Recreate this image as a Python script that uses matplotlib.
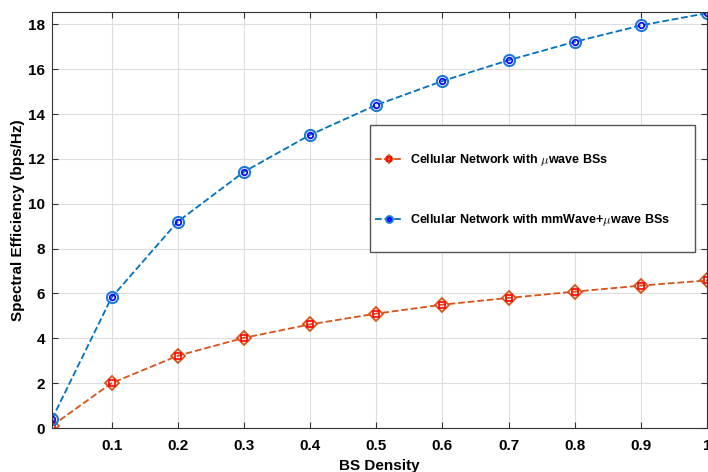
import matplotlib
matplotlib.use('Agg')
import matplotlib.pyplot as plt
from matplotlib.patches import Rectangle

plt.rcParams['font.family'] = ['Liberation Sans', 'DejaVu Sans']
plt.rcParams['font.weight'] = 'bold'
plt.rcParams['mathtext.fontset'] = 'cm'

density = [0.01, 0.1, 0.2, 0.3, 0.4, 0.5, 0.6, 0.7, 0.8, 0.9, 1.0]
se_uwave = [0.1, 2.0, 3.22, 4.02, 4.62, 5.1, 5.5, 5.8, 6.08, 6.35, 6.58]
se_mmwave = [0.4, 5.82, 9.2, 11.42, 13.07, 14.4, 15.47, 16.4, 17.22, 17.95, 18.5]

xticks = [0.1, 0.2, 0.3, 0.4, 0.5, 0.6, 0.7, 0.8, 0.9, 1]
xticklabels = ['0.1', '0.2', '0.3', '0.4', '0.5', '0.6', '0.7', '0.8', '0.9', '1']
yticks = [0, 2, 4, 6, 8, 10, 12, 14, 16, 18]

red_line = '#D95319'
blue_line = '#0072BD'

fig = plt.figure(figsize=(7.08, 4.72), dpi=100)
ax = fig.add_axes([52 / 708, 44 / 472, 655 / 708, 416 / 472])

l1, = ax.plot(density, se_uwave, '--', color=red_line, lw=1.3, marker='D',
              ms=7, mfc='none', mec=red_line, mew=1.3)
m1, = ax.plot(density, se_uwave, 's', color='red', ms=4, mfc='none', mew=1.2)
l2, = ax.plot(density, se_mmwave, '--', color=blue_line, lw=1.3, marker='o',
              ms=8, mfc='none', mec='#1f77e0', mew=1.5)
m2, = ax.plot(density, se_mmwave, 'o', color='blue', ms=4, mfc='none', mew=1.2)

ax.set_xlim(0.01, 1)
ax.set_ylim(0, 18.55)
ax.set_xticks(xticks)
ax.set_xticklabels(xticklabels)
ax.set_yticks(yticks)
ax.tick_params(direction='in', top=True, right=True, labelsize=11,
               length=4, color='#333333')
ax.tick_params(axis='x', pad=8)
ax.tick_params(axis='y', pad=5)
for lab in ax.get_xticklabels() + ax.get_yticklabels():
    lab.set_fontweight('bold')
ax.grid(True, color='#dddddd', lw=0.8)
for s in ax.spines.values():
    s.set_color('#333333')
    s.set_linewidth(0.8)

ax.set_xlabel('BS Density', fontsize=11, fontweight='bold', labelpad=4)
ax.set_ylabel('Spectral Efficiency (bps/Hz)', fontsize=11, fontweight='bold', labelpad=2)

# legend box (drawn separately so the entries can sit close to the left edge)
bx0, bx1 = (370 - 52) / 655, (695 - 52) / 655
by0, by1 = (428 - 252) / 416, (428 - 125) / 416
ax.add_patch(Rectangle((bx0, by0), bx1 - bx0, by1 - by0, transform=ax.transAxes,
                       facecolor='white', edgecolor='#555555', lw=1.0, zorder=5))

leg = ax.legend([(l1, m1), (l2, m2)],
                [r'Cellular Network with $\mu$wave BSs',
                 r'Cellular Network with mmWave+$\mu$wave BSs'],
                loc='center left', bbox_to_anchor=(bx0 + 0.002, (by0 + by1) / 2 - 0.004),
                bbox_transform=ax.transAxes,
                prop={'size': 9, 'weight': 'bold'}, labelspacing=3.5,
                borderpad=0.3, handlelength=2.2, handletextpad=0.6,
                markerscale=0.6, frameon=False, borderaxespad=0)
leg.set_zorder(6)

fig.savefig('out.png', dpi=100)
